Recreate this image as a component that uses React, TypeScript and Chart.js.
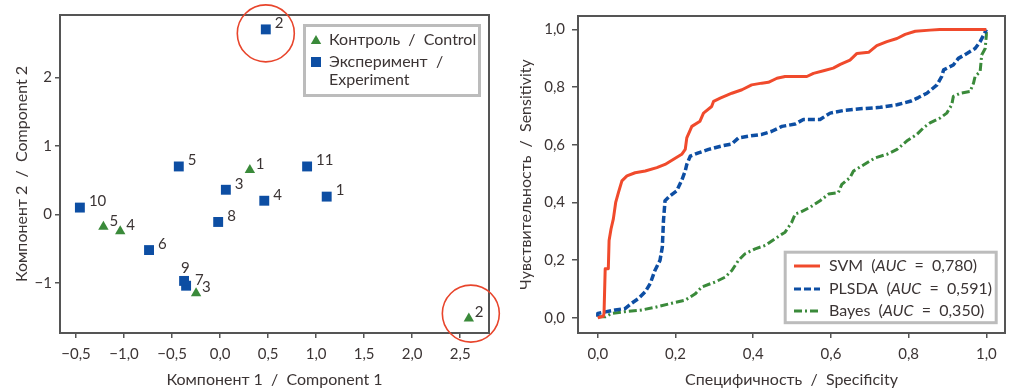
import { useEffect, useRef } from 'react';
import { Chart, registerables } from 'chart.js';

Chart.register(...registerables);

const FONT = 'Lato, "Open Sans", sans-serif';
const TEXT = '#3b3434';
const FRAME = '#555555';
const LEGEND_FRAME = '#bcbcbc';
const GREEN = '#3a8a3a';
const BLUE = '#0d4ea3';
const RED = '#f04a2c';
const CIRCLE = '#e8452c';

// ---- Left chart (PCA) data ----
const controlLabels = ['1', '2', '3', '4', '5'];
const controlX = [0.31, 2.59, -0.25, -1.04, -1.215];
const controlY = [0.65, -1.52, -1.15, -0.245, -0.18];

const experimentLabels = ['1', '2', '3', '4', '5', '6', '7', '8', '9', '10', '11'];
const experimentX = [1.11, 0.476, 0.06, 0.46, -0.43, -0.74, -0.354, -0.02, -0.375, -1.46, 0.906];
const experimentY = [0.26, 2.7, 0.36, 0.2, 0.7, -0.52, -1.04, -0.11, -0.97, 0.1, 0.7];

const pcaXTicks = [-1.5, -1.0, -0.5, 0, 0.5, 1.0, 1.5, 2.0, 2.5];
const pcaXTickLabels = ['−0,5', '−1,0', '−0,5', '0,0', '0,5', '1,0', '1,5', '2,0', '2,5'];
const pcaYTicks = [-1, 0, 1, 2];
const pcaYTickLabels = ['−1', '0', '1', '2'];

const pcaXTitle = 'Компонент 1  /  Component 1';
const pcaYTitle = 'Компонент 2  /  Component 2';
const legendControl = ['Контроль  /  Control'];
const legendExperiment = ['Эксперимент  /', 'Experiment'];

// points highlighted with a red circle: [series, label]
const circledPoints = [
  { series: 'experiment', label: '2' },
  { series: 'control', label: '2' },
];

// ---- Right chart (ROC) data ----
const svmX = [0, 0.014, 0.016, 0.019, 0.027, 0.029, 0.034, 0.04, 0.046, 0.053, 0.062, 0.075, 0.096, 0.122, 0.152, 0.173, 0.195, 0.216, 0.225, 0.229, 0.242, 0.263, 0.272, 0.293, 0.298, 0.315, 0.345, 0.371, 0.396, 0.422, 0.439, 0.461, 0.482, 0.538, 0.555, 0.581, 0.606, 0.624, 0.649, 0.667, 0.697, 0.718, 0.744, 0.77, 0.791, 0.817, 0.855, 0.88, 1.0];
const svmY = [0, 0.005, 0.015, 0.17, 0.17, 0.268, 0.308, 0.343, 0.4, 0.434, 0.475, 0.492, 0.503, 0.509, 0.521, 0.532, 0.55, 0.567, 0.584, 0.624, 0.664, 0.682, 0.71, 0.733, 0.751, 0.762, 0.779, 0.791, 0.808, 0.814, 0.817, 0.831, 0.837, 0.837, 0.848, 0.857, 0.866, 0.879, 0.894, 0.917, 0.921, 0.944, 0.958, 0.969, 0.983, 0.994, 0.998, 1.0, 1.0];

const plsdaX = [0, 0, 0.045, 0.07, 0.087, 0.105, 0.122, 0.135, 0.147, 0.16, 0.166, 0.169, 0.173, 0.186, 0.203, 0.216, 0.225, 0.229, 0.238, 0.259, 0.285, 0.319, 0.345, 0.362, 0.388, 0.422, 0.448, 0.474, 0.508, 0.529, 0.572, 0.598, 0.632, 0.675, 0.727, 0.77, 0.804, 0.825, 0.847, 0.873, 0.885, 0.89, 0.915, 0.928, 0.95, 0.971, 0.984, 0.993, 1.0];
const plsdaY = [0.003, 0.015, 0.027, 0.032, 0.05, 0.067, 0.09, 0.119, 0.164, 0.199, 0.245, 0.337, 0.406, 0.423, 0.44, 0.477, 0.509, 0.532, 0.561, 0.572, 0.584, 0.596, 0.603, 0.624, 0.63, 0.636, 0.647, 0.664, 0.672, 0.688, 0.688, 0.71, 0.719, 0.725, 0.73, 0.739, 0.751, 0.764, 0.779, 0.808, 0.837, 0.86, 0.877, 0.9, 0.917, 0.934, 0.958, 0.981, 1.0];

const bayesX = [0, 0.019, 0.036, 0.07, 0.113, 0.147, 0.19, 0.225, 0.25, 0.268, 0.302, 0.328, 0.345, 0.362, 0.379, 0.405, 0.431, 0.456, 0.482, 0.499, 0.508, 0.521, 0.546, 0.572, 0.594, 0.619, 0.628, 0.649, 0.658, 0.68, 0.714, 0.744, 0.77, 0.795, 0.821, 0.838, 0.855, 0.881, 0.898, 0.911, 0.915, 0.933, 0.958, 0.967, 0.971, 0.984, 0.988, 0.997, 1.0, 1.0];
const bayesY = [0.003, 0.003, 0.015, 0.021, 0.027, 0.036, 0.05, 0.061, 0.082, 0.107, 0.124, 0.141, 0.164, 0.199, 0.222, 0.239, 0.251, 0.274, 0.297, 0.331, 0.36, 0.366, 0.383, 0.406, 0.429, 0.434, 0.463, 0.486, 0.509, 0.527, 0.555, 0.567, 0.584, 0.613, 0.636, 0.659, 0.676, 0.693, 0.71, 0.739, 0.768, 0.779, 0.785, 0.814, 0.837, 0.854, 0.912, 0.934, 0.981, 1.0];

const rocTicks = [0, 0.2, 0.4, 0.6, 0.8, 1.0];
const rocTickLabels = ['0,0', '0,2', '0,4', '0,6', '0,8', '1,0'];
const rocXTitle = 'Специфичность  /  Specificity';
const rocYTitle = 'Чувствительность  /  Sensitivity';
const rocNames = ['SVM', 'PLSDA', 'Bayes'];
const rocAuc = ['0,780', '0,591', '0,350'];

const toPoints = (xs: number[], ys: number[]) => xs.map((x, i) => ({ x, y: ys[i] }));

const framePlugin = {
  id: 'frame',
  afterDraw(chart: any) {
    const { ctx, chartArea: a } = chart;
    ctx.save();
    ctx.strokeStyle = FRAME;
    ctx.lineWidth = 2;
    ctx.strokeRect(a.left, a.top, a.right - a.left, a.bottom - a.top);
    ctx.restore();
  },
};

function drawTriangle(ctx: CanvasRenderingContext2D, x: number, y: number, r: number) {
  ctx.beginPath();
  ctx.moveTo(x, y - r);
  ctx.lineTo(x + r * 0.866, y + r * 0.5);
  ctx.lineTo(x - r * 0.866, y + r * 0.5);
  ctx.closePath();
  ctx.fill();
}

const pcaDecorPlugin = {
  id: 'pcaDecor',
  afterDatasetsDraw(chart: any) {
    const { ctx } = chart;
    ctx.save();
    ctx.font = `15px ${FONT}`;
    ctx.fillStyle = TEXT;
    ctx.textBaseline = 'middle';
    ctx.textAlign = 'left';
    chart.data.datasets.forEach((ds: any, i: number) => {
      const meta = chart.getDatasetMeta(i);
      meta.data.forEach((pt: any, j: number) => {
        const lab = ds.pointLabels[j];
        let dx = ds.key === 'experiment' ? 9 : 6;
        let dy = -6;
        if (ds.key === 'experiment' && lab === '9') {
          dx = -3;
          dy = -13;
        }
        ctx.fillText(lab, pt.x + dx, pt.y + dy);
      });
    });
    ctx.restore();
  },
  afterDraw(chart: any) {
    const { ctx } = chart;
    ctx.save();
    ctx.strokeStyle = CIRCLE;
    ctx.lineWidth = 1.6;
    circledPoints.forEach((c) => {
      const idx = chart.data.datasets.findIndex((d: any) => d.key === c.series);
      const ds = chart.data.datasets[idx];
      const j = ds.pointLabels.indexOf(c.label);
      const pt = chart.getDatasetMeta(idx).data[j];
      const off = c.series === 'experiment' ? { dx: 0, dy: 4 } : { dx: 2, dy: -5 };
      ctx.beginPath();
      ctx.arc(pt.x + off.dx, pt.y + off.dy, 28.5, 0, Math.PI * 2);
      ctx.stroke();
    });
    ctx.strokeStyle = LEGEND_FRAME;
    ctx.lineWidth = 3;
    ctx.strokeRect(304.5, 25.5, 175, 70);
    ctx.fillStyle = GREEN;
    drawTriangle(ctx, 316, 41, 6);
    ctx.fillStyle = BLUE;
    ctx.fillRect(311, 57, 10, 10);
    ctx.fillStyle = TEXT;
    ctx.font = `16px ${FONT}`;
    ctx.textBaseline = 'middle';
    ctx.textAlign = 'left';
    ctx.fillText(legendControl[0], 329, 40);
    ctx.fillText(legendExperiment[0], 329, 62);
    ctx.fillText(legendExperiment[1], 329, 80);
    ctx.restore();
  },
};

const rocLegendPlugin = {
  id: 'rocLegend',
  afterDraw(chart: any) {
    const { ctx } = chart;
    ctx.save();
    ctx.strokeStyle = LEGEND_FRAME;
    ctx.lineWidth = 3;
    ctx.strokeRect(273.2, 252.2, 211, 70.5);
    const rows = [266, 289, 311];
    chart.data.datasets.forEach((ds: any, i: number) => {
      const y = rows[i];
      ctx.strokeStyle = ds.borderColor;
      ctx.lineWidth = 3;
      ctx.setLineDash(ds.borderDash || []);
      ctx.beginPath();
      ctx.moveTo(282, y);
      ctx.lineTo(308, y);
      ctx.stroke();
      ctx.setLineDash([]);
      ctx.fillStyle = TEXT;
      ctx.textBaseline = 'middle';
      ctx.textAlign = 'left';
      let x = 317;
      const parts: [string, boolean][] = [
        [rocNames[i] + '  (', false],
        ['AUC', true],
        ['  =  ' + rocAuc[i] + ')', false],
      ];
      parts.forEach(([t, it]) => {
        ctx.font = `${it ? 'italic ' : ''}16px ${FONT}`;
        ctx.fillText(t, x, y);
        x += ctx.measureText(t).width;
      });
    });
    ctx.restore();
  },
};

function PcaChart() {
  const ref = useRef<HTMLCanvasElement>(null);
  useEffect(() => {
    const chart = new Chart(ref.current as HTMLCanvasElement, {
      type: 'scatter',
      data: {
        datasets: [
          {
            key: 'experiment',
            pointLabels: experimentLabels,
            data: toPoints(experimentX, experimentY),
            pointStyle: 'rect',
            pointRadius: 7,
            backgroundColor: BLUE,
            borderColor: BLUE,
            borderWidth: 0,
          } as any,
          {
            key: 'control',
            pointLabels: controlLabels,
            data: toPoints(controlX, controlY),
            pointStyle: 'triangle',
            pointRadius: 6,
            backgroundColor: GREEN,
            borderColor: GREEN,
            borderWidth: 0,
          } as any,
        ],
      },
      options: {
        animation: false,
        responsive: false,
        devicePixelRatio: 1,
        layout: { padding: { top: 15, right: 23, left: 0, bottom: 0 } },
        plugins: { legend: { display: false }, tooltip: { enabled: false } },
        scales: {
          x: {
            type: 'linear',
            min: -1.667,
            max: 2.8,
            afterBuildTicks: (s: any) => {
              s.ticks = pcaXTicks.map((v) => ({ value: v }));
            },
            afterFit: (s: any) => {
              s.height = 59;
            },
            grid: { drawOnChartArea: false, drawTicks: true, tickLength: 5, color: FRAME, lineWidth: 1.5 },
            border: { display: false },
            ticks: {
              color: TEXT,
              font: { family: FONT, size: 15 },
              padding: 7,
              maxRotation: 0,
              autoSkip: false,
              callback: (_v: any, i: number) => pcaXTickLabels[i],
            },
            title: {
              display: true,
              text: pcaXTitle,
              color: TEXT,
              font: { family: FONT, size: 16 },
              padding: { top: 0, bottom: 2.5 },
            },
          },
          y: {
            type: 'linear',
            min: -1.73,
            max: 2.91,
            afterBuildTicks: (s: any) => {
              s.ticks = pcaYTicks.map((v) => ({ value: v }));
            },
            afterFit: (s: any) => {
              s.width = 60;
            },
            grid: { drawOnChartArea: false, drawTicks: true, tickLength: 5, color: FRAME, lineWidth: 1.5 },
            border: { display: false },
            ticks: {
              color: TEXT,
              font: { family: FONT, size: 15 },
              padding: 3,
              autoSkip: false,
              callback: (_v: any, i: number) => pcaYTickLabels[i],
            },
            title: {
              display: true,
              text: pcaYTitle,
              color: TEXT,
              font: { family: FONT, size: 16 },
              padding: { top: 12, bottom: 0 },
            },
          },
        },
      },
      plugins: [framePlugin, pcaDecorPlugin],
    } as any);
    return () => chart.destroy();
  }, []);
  return <canvas ref={ref} width={512} height={392} />;
}

function RocChart() {
  const ref = useRef<HTMLCanvasElement>(null);
  useEffect(() => {
    const common = { showLine: true, pointRadius: 0, borderWidth: 3, tension: 0, fill: false, borderCapStyle: 'butt', borderJoinStyle: 'round' };
    const chart = new Chart(ref.current as HTMLCanvasElement, {
      type: 'scatter',
      data: {
        datasets: [
          { ...common, data: toPoints(svmX, svmY), borderColor: RED, backgroundColor: RED },
          { ...common, data: toPoints(plsdaX, plsdaY), borderColor: BLUE, backgroundColor: BLUE, borderDash: [7, 3], borderWidth: 3.5 },
          { ...common, data: toPoints(bayesX, bayesY), borderColor: GREEN, backgroundColor: GREEN, borderDash: [8, 3, 2, 3] },
        ],
      },
      options: {
        animation: false,
        responsive: false,
        devicePixelRatio: 1,
        layout: { padding: { top: 14, right: 19, left: 0, bottom: 0 } },
        plugins: { legend: { display: false }, tooltip: { enabled: false } },
        scales: {
          x: {
            type: 'linear',
            min: -0.051,
            max: 1.048,
            afterBuildTicks: (s: any) => {
              s.ticks = rocTicks.map((v) => ({ value: v }));
            },
            afterFit: (s: any) => {
              s.height = 59;
            },
            grid: { drawOnChartArea: false, drawTicks: true, tickLength: 5, color: FRAME, lineWidth: 1.5 },
            border: { display: false },
            ticks: {
              color: TEXT,
              font: { family: FONT, size: 15 },
              padding: 7,
              maxRotation: 0,
              autoSkip: false,
              callback: (_v: any, i: number) => rocTickLabels[i],
            },
            title: {
              display: true,
              text: rocXTitle,
              color: TEXT,
              font: { family: FONT, size: 16 },
              padding: { top: 0, bottom: 2.5 },
            },
          },
          y: {
            type: 'linear',
            min: -0.053,
            max: 1.047,
            afterBuildTicks: (s: any) => {
              s.ticks = rocTicks.map((v) => ({ value: v }));
            },
            afterFit: (s: any) => {
              s.width = 66;
            },
            grid: { drawOnChartArea: false, drawTicks: true, tickLength: 6, color: FRAME, lineWidth: 1.5 },
            border: { display: false },
            ticks: {
              color: TEXT,
              font: { family: FONT, size: 15 },
              padding: 7,
              autoSkip: false,
              callback: (_v: any, i: number) => rocTickLabels[i],
            },
            title: {
              display: true,
              text: rocYTitle,
              color: TEXT,
              font: { family: FONT, size: 16 },
              padding: { top: 4.5, bottom: 0 },
            },
          },
        },
      },
      plugins: [framePlugin, rocLegendPlugin],
    } as any);
    return () => chart.destroy();
  }, []);
  return <canvas ref={ref} width={512} height={392} />;
}

export default function App() {
  return (
    <div style={{ position: 'fixed', left: 0, top: 0, width: 1024, height: 392, background: '#fff' }}>
      <div style={{ position: 'absolute', left: 0, top: 0, width: 512, height: 392 }}>
        <PcaChart />
      </div>
      <div style={{ position: 'absolute', left: 512, top: 0, width: 512, height: 392 }}>
        <RocChart />
      </div>
    </div>
  );
}
